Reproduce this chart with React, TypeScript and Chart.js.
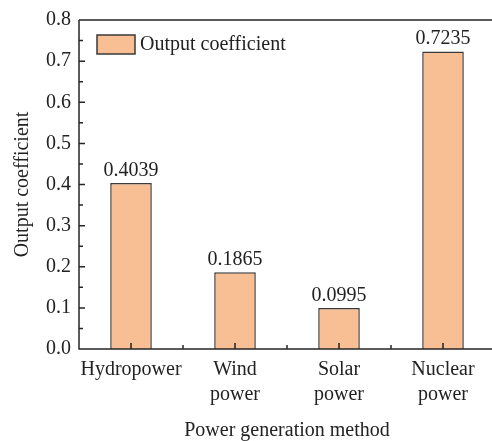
import React, { useEffect, useRef } from "react";
import { Chart, registerables } from "chart.js";

Chart.register(...registerables);

const categories: (string | string[])[] = ["Hydropower", ["Wind", "power"], ["Solar", "power"], ["Nuclear", "power"]];
const seriesLabel = "Output coefficient";
const outputCoefficient = [0.4039, 0.1865, 0.0995, 0.7235];
const valueLabels = ["0.4039", "0.1865", "0.0995", "0.7235"];
const yTicks = [0, 0.1, 0.2, 0.3, 0.4, 0.5, 0.6, 0.7, 0.8];
const yMinorTicks = [0.05, 0.15, 0.25, 0.35, 0.45, 0.55, 0.65, 0.75];

const FONT = "'Liberation Serif', 'Times New Roman', serif";
const TEXT = "#222222";
const AXIS = "#262626";
const FILL = "#F8BE94";
const EDGE = "#3a3a3a";

const framePlugin = {
  id: "frame",
  afterDatasetsDraw(chart: any) {
    const { ctx, chartArea, scales } = chart;
    const { left, right, top, bottom } = chartArea;
    const x = scales.x;
    const y = scales.y;
    ctx.save();
    ctx.strokeStyle = AXIS;
    ctx.lineWidth = 1.5;
    ctx.beginPath();
    ctx.moveTo(left, top);
    ctx.lineTo(right + 2, top);
    ctx.moveTo(left, top);
    ctx.lineTo(left, bottom);
    ctx.lineTo(right + 2, bottom);
    yTicks.forEach((v) => {
      const py = y.getPixelForValue(v);
      ctx.moveTo(left, py);
      ctx.lineTo(left + 6, py);
    });
    yMinorTicks.forEach((v) => {
      const py = y.getPixelForValue(v);
      ctx.moveTo(left, py);
      ctx.lineTo(left + 4, py);
    });
    categories.forEach((_, i) => {
      const px = x.getPixelForValue(i);
      ctx.moveTo(px, bottom);
      ctx.lineTo(px, bottom - 6);
      if (i < categories.length - 1) {
        const pm = (px + x.getPixelForValue(i + 1)) / 2;
        ctx.moveTo(pm, bottom);
        ctx.lineTo(pm, bottom - 4);
      }
    });
    ctx.stroke();

    // value labels
    ctx.fillStyle = TEXT;
    ctx.font = `20px ${FONT}`;
    ctx.textAlign = "center";
    ctx.textBaseline = "alphabetic";
    const meta = chart.getDatasetMeta(0);
    meta.data.forEach((bar: any, i: number) => {
      ctx.fillText(valueLabels[i], bar.x, bar.y - 7);
    });

    // legend
    const lx = left + 18;
    const ly = top + 15;
    ctx.fillStyle = FILL;
    ctx.fillRect(lx, ly, 38, 19);
    ctx.strokeStyle = EDGE;
    ctx.lineWidth = 1.5;
    ctx.strokeRect(lx, ly, 38, 19);
    ctx.fillStyle = TEXT;
    ctx.textAlign = "left";
    ctx.textBaseline = "middle";
    ctx.fillText(seriesLabel, lx + 43, ly + 9.5);
    ctx.restore();
  },
};

export default function App() {
  const ref = useRef<HTMLCanvasElement>(null);
  useEffect(() => {
    if (!ref.current) return;
    const chart = new Chart(ref.current, {
      type: "bar",
      data: {
        labels: categories,
        datasets: [
          {
            label: seriesLabel,
            data: outputCoefficient,
            backgroundColor: FILL,
            borderColor: EDGE,
            borderWidth: 1.5,
            barPercentage: 0.4,
            categoryPercentage: 1,
          },
        ],
      },
      options: {
        animation: false,
        responsive: false,
        devicePixelRatio: 1,
        layout: { padding: { top: 19, left: 0, right: 0, bottom: 0 } },
        plugins: { legend: { display: false }, tooltip: { enabled: false } },
        scales: {
          x: {
            grid: { display: false, drawTicks: false },
            border: { display: false },
            ticks: { color: TEXT, font: { family: FONT, size: 20, lineHeight: 1.25 }, padding: 8, maxRotation: 0, autoSkip: false },
            title: { display: true, text: "Power generation method", color: TEXT, font: { family: FONT, size: 20, lineHeight: 1 }, padding: { top: 0, bottom: 0 } },
            afterFit: (s: any) => {
              s.height = 92;
            },
          },
          y: {
            min: 0,
            max: 0.8,
            grid: { display: false, drawTicks: false },
            border: { display: false },
            ticks: { stepSize: 0.1, color: TEXT, font: { family: FONT, size: 20 }, padding: 8, callback: (v: any) => Number(v).toFixed(1) },
            title: { display: true, text: "Output coefficient", color: TEXT, font: { family: FONT, size: 20, lineHeight: 1.2 }, padding: { top: 11, bottom: 0 } },
            afterFit: (s: any) => {
              s.width = 79;
            },
          },
        },
      },
      plugins: [framePlugin],
    });
    return () => chart.destroy();
  }, []);
  return (
    <div style={{ position: "fixed", left: 0, top: 0, width: 492, height: 441, overflow: "hidden", background: "#fff" }}>
      <canvas ref={ref} width={495} height={441} style={{ width: 495, height: 441, display: "block" }} />
    </div>
  );
}
